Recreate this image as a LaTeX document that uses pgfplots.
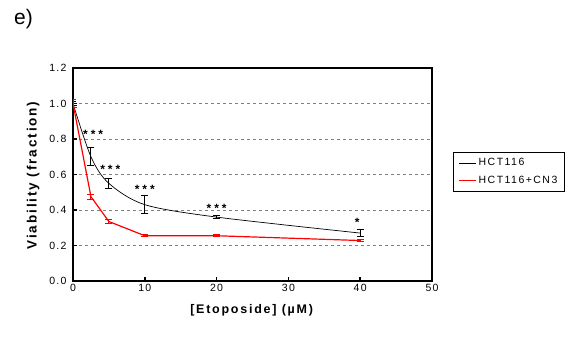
\documentclass[border=0pt]{standalone}
\usepackage{pgfplots}
\pgfplotsset{compat=1.18}
\usepackage{fontspec}
\setmainfont{Liberation Sans}
\begin{document}
\begin{tikzpicture}
\path[use as bounding box] (0pt,0pt) rectangle (568pt,340pt);
\node[anchor=north west, inner sep=0pt, font=\fontsize{21}{22}\selectfont] at (14pt,331pt) {e)};
\begin{axis}[at={(73pt,59pt)}, anchor=south west, scale only axis,
  width=359pt, height=213pt,
  xmin=0, xmax=50, ymin=0, ymax=1.2,
  xtick={0,10,20,30,40,50},
  ytick={0,0.2,0.4,0.6,0.8,1.0,1.2},
  tick pos=left, tick align=inside,
  major tick length=4pt,
  tick style={black, line width=1.5pt},
  axis line style={line width=1.5pt},
  ymajorgrids,
  grid style={dashed, gray, line width=0.9pt},
  /pgf/number format/assume math mode=true,
  yticklabel style={xshift=-3pt, /pgf/number format/.cd, fixed, fixed zerofill, precision=1},
  ticklabel style={font=\fontsize{10.5}{11}\selectfont\addfontfeature{LetterSpace=12}},
  xlabel={\textbf{[Etoposide] (µM)}},
  ylabel={\textbf{Viability (fraction)}},
  xlabel style={at={(axis description cs:0.5,-0.136)}, anchor=center, font=\fontsize{12.5}{13}\selectfont\addfontfeature{LetterSpace=14}},
  ylabel style={at={(axis description cs:-0.111,0.5)}, anchor=center, font=\fontsize{13.5}{14}\selectfont\addfontfeature{LetterSpace=14}},
  legend style={at={(1.058,0.606)}, anchor=north west, draw=black, line width=1.2pt,
    font=\fontsize{10.5}{11}\selectfont\addfontfeature{LetterSpace=14}, row sep=5pt, inner xsep=5pt, inner ysep=4pt},
  legend cell align=left,
]
\addplot[black, line width=0.7pt, smooth, tension=0.5,
  error bars/.cd, y dir=both, y explicit,
  error bar style={line width=1pt, solid},
  error mark options={rotate=90, mark size=3.5pt, line width=1pt}]
  table[x=x, y=y, y error=e] {
x    y     e
0    1.00  0.01
2.5  0.70  0.05
5    0.55  0.03
10   0.43  0.05
20   0.36  0.01
40   0.27  0.02
};
\addlegendentry{HCT116}
\addplot[red, line width=1.2pt,
  error bars/.cd, y dir=both, y explicit,
  error bar style={line width=1pt, solid},
  error mark options={rotate=90, mark size=3.5pt, line width=1pt}]
  table[x=x, y=y, y error=e] {
x    y     e
0    1.00  0.02
2.5  0.475 0.015
5    0.335 0.01
10   0.255 0.005
20   0.255 0.005
40   0.228 0.008
};
\addlegendentry{HCT116+CN3}
\addplot[only marks, mark=none, nodes near coords, point meta=explicit symbolic,
  every node near coord/.append style={anchor=center, font=\fontsize{12}{12}\selectfont\bfseries, black}]
  table[x=x, y=y, meta=t] {
x    y     t
2.8  0.825 {*\hspace{3pt}*\hspace{3pt}*}
5.2  0.63  {*\hspace{3pt}*\hspace{3pt}*}
10.0 0.515 {*\hspace{3pt}*\hspace{3pt}*}
20.0 0.41  {*\hspace{3pt}*\hspace{3pt}*}
39.6 0.33  {*}
};
\end{axis}
\end{tikzpicture}
\end{document}
